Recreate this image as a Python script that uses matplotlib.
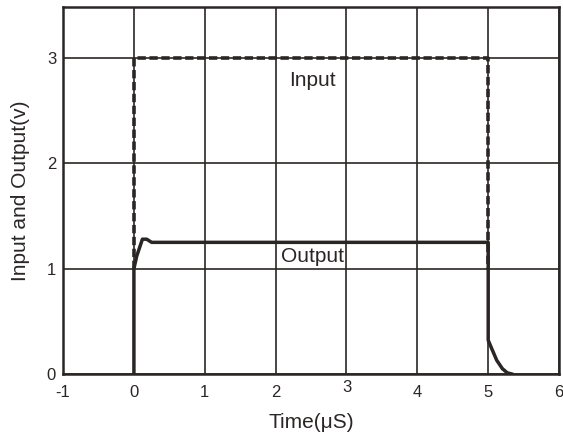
import numpy as np
import matplotlib.pyplot as plt
import matplotlib.transforms as mtrans

# signal traces (time in uS, level in V)
input_t = [0.0, 0.0, 5.0, 5.0]
input_v = [1.0, 3.0, 3.0, 1.0]

output_t = [0.0, 0.0, 0.04, 0.12, 0.18, 0.25, 5.0, 5.0, 5.05, 5.12, 5.2, 5.27, 5.33]
output_v = [0.0, 1.0, 1.12, 1.28, 1.28, 1.25, 1.25, 0.32, 0.24, 0.13, 0.05, 0.01, 0.0]

x_ticks = [-1, 0, 1, 2, 3, 4, 5, 6]
y_ticks = [0, 1, 2, 3]

col = '#2b2626'
plt.rcParams['font.family'] = ['Liberation Sans', 'DejaVu Sans']
plt.rcParams['axes.unicode_minus'] = False

fig = plt.figure(figsize=(5.63, 4.42), dpi=100)
ax = fig.add_axes([0.112, 0.154, 0.881, 0.830])

ax.plot(input_t, input_v, color=col, lw=2.6, ls=(0, (2.3, 1.0)))
ax.plot(output_t, output_v, color=col, lw=2.5, solid_joinstyle='round')

ax.set_xlim(-1, 6)
ax.set_ylim(0, 3.485)
ax.set_xticks(x_ticks)
ax.set_yticks(y_ticks)
ax.grid(True, color=col, lw=1.2)
ax.set_axisbelow(True)
ax.tick_params(length=0, labelsize=12, colors=col)
ax.tick_params(axis='x', pad=8)
ax.tick_params(axis='y', pad=5)
for s in ax.spines.values():
    s.set_color(col)
    s.set_linewidth(1.8)

# the "3" label sits a bit higher in the original
lbl = ax.get_xticklabels()[4]
lbl.set_transform(lbl.get_transform() + mtrans.ScaledTranslation(0, 0.05, fig.dpi_scale_trans))

ax.text(2.52, 2.79, 'Input', ha='center', va='center', fontsize=15, color=col)
ax.text(2.52, 1.12, 'Output', ha='center', va='center', fontsize=15, color=col)

ax.set_xlabel('Time(μS)', fontsize=15, color=col, labelpad=9)
ax.set_ylabel('Input and Output(v)', fontsize=15, color=col, labelpad=12)

fig.savefig('out.png', dpi=100)
